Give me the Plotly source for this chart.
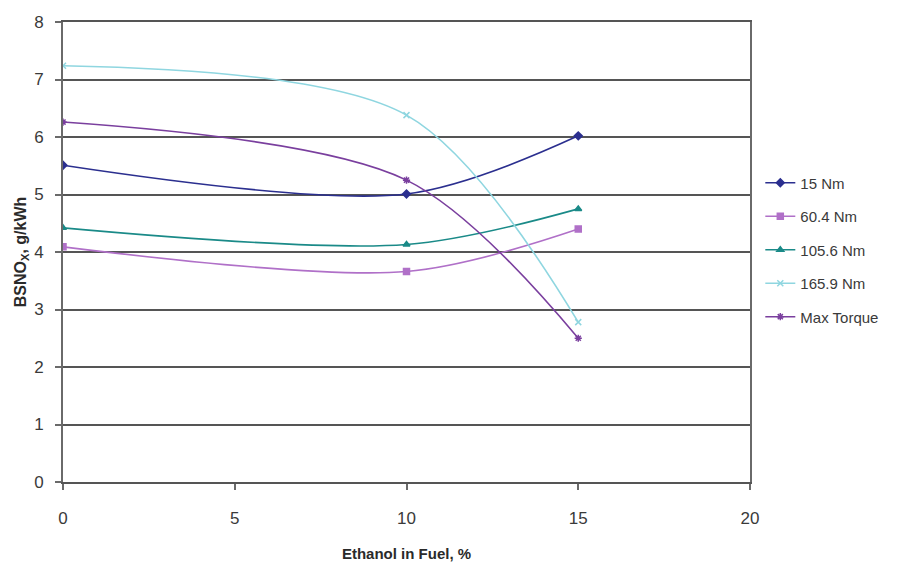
import plotly.graph_objects as go

# Ethanol content in fuel (%)
ethanol = [0, 10, 15]

# Brake-specific NOx emissions (g/kWh) per load condition
nox_15nm = [5.51, 5.01, 6.02]
nox_60nm = [4.09, 3.66, 4.40]
nox_105nm = [4.42, 4.13, 4.75]
nox_165nm = [7.24, 6.38, 2.78]
nox_max = [6.26, 5.25, 2.50]

series = [
    ("15 Nm", nox_15nm, "#2b2f8f", "diamond", 6),
    ("60.4 Nm", nox_60nm, "#b070c8", "square", 6),
    ("105.6 Nm", nox_105nm, "#1a8a88", "triangle-up", 6),
    ("165.9 Nm", nox_165nm, "#8fd6e0", "x-thin-open", 6),
    ("Max Torque", nox_max, "#7a3f9e", "asterisk-open", 6),
]

font_family = "Liberation Sans Narrow, Arial Narrow, Liberation Sans, Arial"

fig = go.Figure()
for i, (name, vals, color, sym, size) in enumerate(series):
    fig.add_trace(go.Scatter(
        x=ethanol, y=vals, name=name, mode="lines+markers",
        legendgroup=f"g{i}",
        line=dict(color=color, width=1.6, shape="spline", smoothing=0.9),
        marker=dict(symbol=sym, size=size, color=color,
                    line=dict(color=color, width=1.5)),
    ))

fig.update_layout(
    width=897, height=568,
    margin=dict(l=63, r=147, t=22, b=86, autoexpand=False),
    paper_bgcolor="white", plot_bgcolor="white",
    font=dict(family=font_family, size=16, color="#3a3a3a"),
    showlegend=True,
    legend=dict(x=1.015, y=0.686, xanchor="left", yanchor="top",
                font=dict(size=15, color="#3a3a3a"),
                bgcolor="rgba(0,0,0,0)", tracegroupgap=11, itemwidth=30),
)

fig.update_xaxes(
    range=[0, 20], tickvals=[0, 5, 10, 15, 20],
    showgrid=False, zeroline=False,
    showline=True, linecolor="#555555", linewidth=2, mirror=True,
    ticks="outside", ticklen=6, tickcolor="#6a6a6a", tickwidth=1.5,
    ticklabelstandoff=14,
    tickfont=dict(size=17, color="#3a3a3a"),
    title=dict(text="<b>Ethanol in Fuel, %</b>", font=dict(size=15, color="#2a2a2a"),
               standoff=21),
)

fig.update_yaxes(
    range=[0, 8], tickvals=list(range(0, 9)),
    showgrid=True, gridcolor="#555555", gridwidth=2,
    zeroline=False,
    showline=True, linecolor="#6a6a6a", linewidth=2, mirror=True,
    ticks="outside", ticklen=6, tickcolor="#6a6a6a", tickwidth=1.5,
    ticklabelstandoff=8,
    tickfont=dict(size=17, color="#3a3a3a"),
    title=dict(text="<b>BSNO<sub>X</sub>, g/kWh</b>", font=dict(size=16, color="#2a2a2a"),
               standoff=4),
)

fig.write_html("out.html")
